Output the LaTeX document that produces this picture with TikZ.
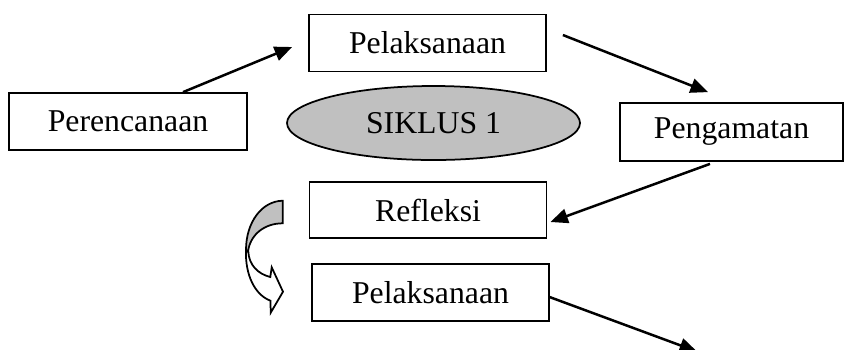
\documentclass[tikz,border=0pt]{standalone}
\usepackage{fontspec}
\setmainfont{Liberation Serif}
\usetikzlibrary{arrows.meta,positioning,shapes.geometric}
\definecolor{CycleGray}{RGB}{192,192,192}

\begin{document}
\begin{tikzpicture}[x=0.4pt,y=-0.4pt,
  box/.style={rectangle,draw,line width=0.7pt,minimum width=94.8pt,minimum height=22.8pt,inner sep=0pt,font=\fontsize{12.7}{15}\selectfont},
  cyc/.style={ellipse,draw,line width=0.7pt,fill=CycleGray,minimum width=117.2pt,minimum height=29.6pt,inner sep=0pt,font=\fontsize{12.7}{15}\selectfont},
  link/.style={-{Triangle[length=7pt,width=5.8pt]},line width=1pt}
]
  \useasboundingbox (0,0) rectangle (844,349);
  \node[box] (act1) at (427.5,43) {Pelaksanaan};
  \node[box,minimum width=95.2pt] (plan) at (128,121.5) {Perencanaan};
  \node[cyc] (cycle) at (433.5,123) {SIKLUS 1};
  \node[box,minimum width=89.2pt,minimum height=23.2pt] (observe) at (731.5,132) {Pengamatan};
  \node[box,minimum height=22.4pt] (reflect) at (428,210) {Refleksi};
  \node[box,below=9.6pt of reflect,xshift=1pt] (act2) {Pelaksanaan};
  \coordinate (next) at (697,351.5);
  % arrows of the cycle
  \draw[link] ([xshift=22pt]plan.north) -- ([xshift=-6.4pt,yshift=-1.6pt]act1.west);
  \draw[link] ([xshift=6.4pt,yshift=3.2pt]act1.east) -- ([xshift=-9.4pt,yshift=4pt]observe.north);
  \draw[link] ([xshift=-8.6pt,yshift=-0.8pt]observe.south) -- ([xshift=1.2pt,yshift=-4.8pt]reflect.east);
  \draw[link] ([xshift=-0.4pt,yshift=-1.8pt]act2.east) -- (next);
  % curved arrow to the next cycle
  \draw[line width=0.7pt,fill=white,line join=miter]
    (246,250) .. controls (245,275) and (255,295) .. (270.5,300.7) -- (270.7,312.7)
    -- (283,291.7) -- (271.7,267.3) -- (270.3,277)
    .. controls (258,274) and (249,265) .. (248.3,251.7) -- cycle;
  \draw[line width=0.7pt,fill=CycleGray]
    (282.7,200.7) -- (282.7,223.3) .. controls (264,223.3) and (250,235) .. (248,251.7)
    -- (246,250) .. controls (246,222) and (262,201) .. (282.7,200.7) -- cycle;
\end{tikzpicture}
\end{document}
